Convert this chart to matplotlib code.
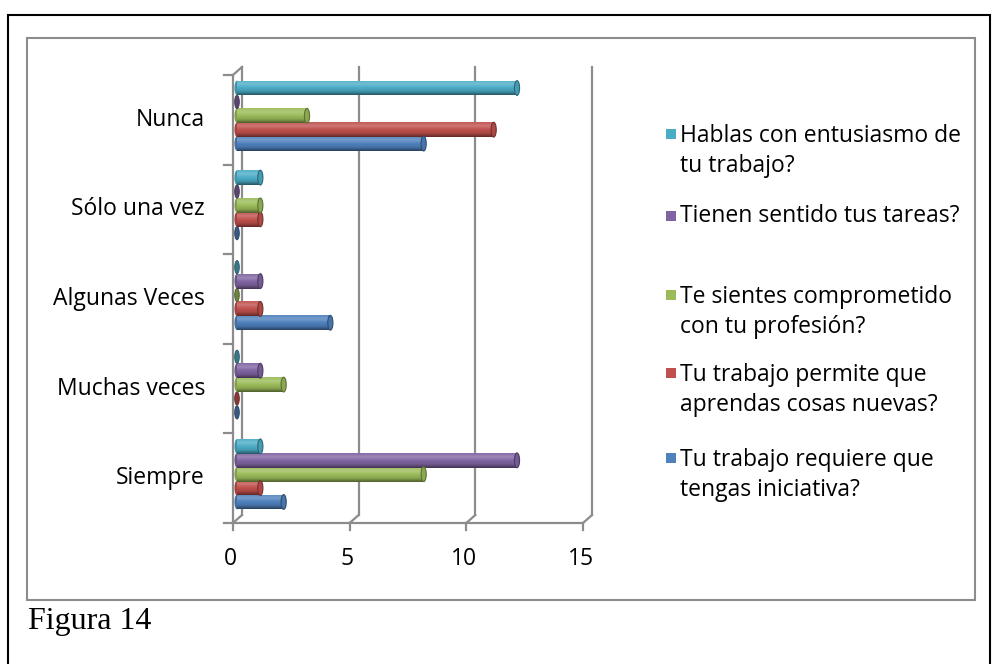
import matplotlib.pyplot as plt
import matplotlib.transforms as mtransforms
from matplotlib.colors import LinearSegmentedColormap, to_rgb
from matplotlib.patches import Rectangle, Ellipse
import numpy as np

# Survey answers, categories from bottom to top
categories = ['Siempre', 'Muchas veces', 'Algunas Veces', 'Sólo una vez', 'Nunca']
series_names = [
    'Tu trabajo requiere que\ntengas iniciativa?',
    'Tu trabajo permite que\naprendas cosas nuevas?',
    'Te sientes comprometido\ncon tu profesión?',
    'Tienen sentido tus tareas?',
    'Hablas con entusiasmo de\ntu trabajo?',
]
series_colors = ['#4F81BD', '#C0504D', '#9BBB59', '#8064A2', '#4BACC6']
iniciativa = [2, 0, 4, 0, 8]
aprendizaje = [1, 0, 1, 1, 11]
compromiso = [8, 2, 0, 1, 3]
sentido = [12, 1, 1, 0, 0]
entusiasmo = [1, 0, 0, 1, 12]
series_values = [iniciativa, aprendizaje, compromiso, sentido, entusiasmo]
x_ticks = [0, 5, 10, 15]

plt.rcParams['font.family'] = ['Open Sans', 'DejaVu Sans']

fig = plt.figure(figsize=(9.97, 6.64), dpi=100)
W, H = 997, 664

# page frame and chart frame
fig.add_artist(Rectangle((8 / W, -0.05), 982 / W, 1.05 - 15 / H, transform=fig.transFigure,
                         fill=False, ec='black', lw=1.5))
fig.add_artist(Rectangle((27 / W, 1 - 600 / H), 948 / W, 562 / H, transform=fig.transFigure,
                         fill=False, ec='#8c8c8c', lw=1.5))
fig.text(28 / W, 1 - 622 / H, 'Figura 14', family='Liberation Serif', fontsize=23,
         va='center', ha='left')

ax = fig.add_axes([233 / W, 1 - 523 / H, 350 / W, 448 / H])
ax.set_xlim(0, 15)
ax.set_ylim(-0.5, 4.5)
for s in ax.spines.values():
    s.set_visible(False)
ax.set_xticks([])
ax.set_yticks([])
ax.patch.set_visible(False)

# depth offsets: back wall and bar mid-plane
back = ax.transData + mtransforms.ScaledTranslation(0.09, 0.08, fig.dpi_scale_trans)
mid = ax.transData + mtransforms.ScaledTranslation(0.04, 0.04, fig.dpi_scale_trans)
gcol = '#8c8c8c'
for t in x_ticks:
    ax.plot([t, t], [-0.5, 4.5], color=gcol, lw=1.6, transform=back, clip_on=False)
    # floor diagonals
    p0 = ax.transData.transform((t, -0.5))
    p1 = back.transform((t, -0.5))
    ax.plot([p0[0], p1[0]], [p0[1], p1[1]], color=gcol, lw=1.6, transform=None, clip_on=False)
    ax.plot([t, t], [-0.5, -0.58], color=gcol, lw=1.6, clip_on=False)
    ax.text(t - 0.1, -0.9, str(t), ha='center', va='center', fontsize=16.5)

# left axis with diagonal to the back at the top
ax.plot([0, 0], [-0.5, 4.5], color=gcol, lw=1.6, clip_on=False)
p0 = ax.transData.transform((0, 4.5))
p1 = back.transform((0, 4.5))
ax.plot([p0[0], p1[0]], [p0[1], p1[1]], color=gcol, lw=1.6, transform=None, clip_on=False)
ax.plot([0, 15], [-0.5, -0.5], color=gcol, lw=1.6, clip_on=False)
for k in range(len(categories) + 1):
    ax.plot([-0.4, 0], [k - 0.5, k - 0.5], color=gcol, lw=1.6, clip_on=False)
for k, c in enumerate(categories):
    ax.text(-1.2, k + 0.0, c, ha='right', va='center', fontsize=16.5)

# cylinder bars
bar_h = 0.165
step = 0.155
cap_w = 0.22
grad = np.linspace(0, 1, 64).reshape(-1, 1)


def shade(col, f):
    c = np.array(to_rgb(col))
    if f < 0:
        return tuple(c * (1 + f))
    return tuple(c + (1 - c) * f)


for i, (vals, col) in enumerate(zip(series_values, series_colors)):
    cmap = LinearSegmentedColormap.from_list(
        'cyl', [shade(col, -0.5), shade(col, -0.12), col, shade(col, 0.22), shade(col, 0.05)])
    for k, v in enumerate(vals):
        y = k + (i - 2) * step
        if v == 0:
            ax.add_patch(Ellipse((0.0, y), cap_w * 0.9, bar_h * 0.9, fc=shade(col, -0.3),
                                 ec=shade(col, -0.5), lw=0.6, zorder=3, transform=mid))
            continue
        ax.add_patch(Ellipse((0, y), cap_w, bar_h, fc=shade(col, -0.15), ec='none', zorder=3,
                             transform=mid))
        im = ax.imshow(grad, extent=[0, v, y - bar_h / 2, y + bar_h / 2], origin='lower',
                       aspect='auto', cmap=cmap, zorder=3, interpolation='bilinear')
        im.set_transform(mid)
        im.set_clip_path(Rectangle((0, y - bar_h / 2), v, bar_h, transform=mid))
        ax.add_patch(Ellipse((v, y), cap_w, bar_h, fc=shade(col, -0.1), ec=shade(col, -0.4),
                             lw=0.8, zorder=4, transform=mid))

ax.set_xlim(0, 15)
ax.set_ylim(-0.5, 4.5)

# legend, top entry first
legend_y = [151, 216, 312, 390, 475]
for j, (name, col) in enumerate(zip(series_names[::-1], series_colors[::-1])):
    yy = legend_y[j]
    nlines = name.count('\n') + 1
    top = yy - (nlines - 1) * 17
    fig.add_artist(Rectangle((666 / W, 1 - (top + 5) / H), 10 / W, 10 / H,
                             transform=fig.transFigure, fc=col, ec='none'))
    fig.text(680 / W, 1 - yy / H, name, ha='left', va='center', fontsize=16.5, linespacing=1.35)

fig.savefig('out.png', dpi=100)
